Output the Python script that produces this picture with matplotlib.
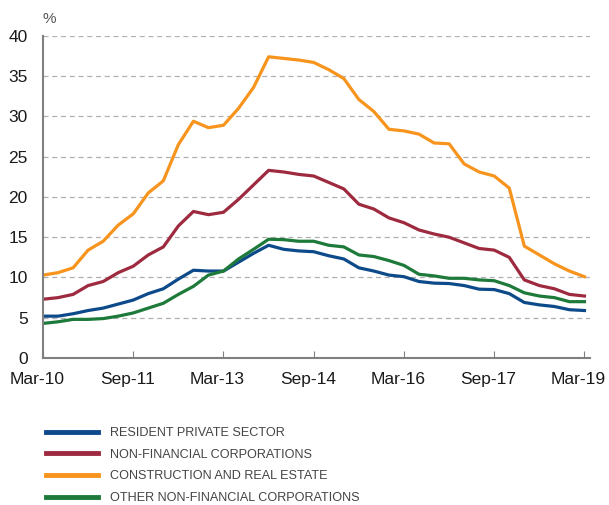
import numpy as np
import matplotlib.pyplot as plt
import matplotlib.transforms as mtransforms
from matplotlib import font_manager

quarters = np.arange(37)
tick_pos = [0, 6, 12, 18, 24, 30, 36]
tick_labels = ["Mar-10", "Sep-11", "Mar-13", "Sep-14", "Mar-16", "Sep-17", "Mar-19"]

resident = [5.2, 5.2, 5.5, 5.9, 6.2, 6.7, 7.2, 8.0, 8.6, 9.8, 10.9, 10.8, 10.8, 11.9, 13.0, 14.0,
            13.5, 13.3, 13.2, 12.7, 12.3, 11.2, 10.8, 10.3, 10.1, 9.5, 9.3, 9.25, 9.0, 8.55, 8.5,
            8.0, 6.9, 6.6, 6.4, 6.0, 5.9]
nfc = [7.3, 7.5, 7.9, 9.0, 9.5, 10.6, 11.4, 12.8, 13.8, 16.4, 18.2, 17.8, 18.1, 19.7, 21.5, 23.3,
       23.1, 22.8, 22.6, 21.8, 21.0, 19.1, 18.5, 17.4, 16.8, 15.9, 15.4, 15.0, 14.3, 13.6, 13.4,
       12.5, 9.7, 9.0, 8.6, 7.9, 7.7]
construction = [10.3, 10.6, 11.2, 13.4, 14.5, 16.5, 17.9, 20.5, 22.0, 26.5, 29.4, 28.6, 28.9, 31.0,
                33.6, 37.4, 37.2, 37.0, 36.7, 35.8, 34.7, 32.1, 30.6, 28.4, 28.2, 27.8, 26.7, 26.6,
                24.1, 23.1, 22.6, 21.1, 13.9, 12.8, 11.7, 10.8, 10.1]
other_nfc = [4.3, 4.5, 4.8, 4.8, 4.9, 5.2, 5.6, 6.2, 6.8, 7.9, 8.9, 10.3, 10.8, 12.3, 13.5, 14.75,
             14.7, 14.5, 14.5, 14.0, 13.8, 12.8, 12.6, 12.1, 11.5, 10.4, 10.2, 9.9, 9.9, 9.7, 9.6,
             9.0, 8.1, 7.7, 7.5, 7.0, 7.0]

series = [
    ("RESIDENT PRIVATE SECTOR", resident, "#0d4a8a"),
    ("NON-FINANCIAL CORPORATIONS", nfc, "#9e2a3f"),
    ("CONSTRUCTION AND REAL ESTATE", construction, "#f7941d"),
    ("OTHER NON-FINANCIAL CORPORATIONS", other_nfc, "#1e7a3a"),
]

# pick a narrow font for the legend if one is installed
installed = {f.name for f in font_manager.fontManager.ttflist}
leg_font = "Liberation Sans"
for cand in ["Liberation Sans Narrow", "DejaVu Sans Condensed"]:
    if cand in installed:
        leg_font = cand
        break

plt.rcParams["font.family"] = ["Liberation Sans", "DejaVu Sans"]

fig = plt.figure(figsize=(6.09, 5.05), dpi=100)
ax = fig.add_axes([0.0706, 0.291, 0.899, 0.638])

lines = []
for name, vals, col in series:
    l, = ax.plot(quarters, vals, color=col, lw=2.3, label=name)
    lines.append(l)

ax.set_xlim(0, 36.4)
ax.set_ylim(0, 40)
ax.set_yticks(range(0, 41, 5))
ax.set_xticks(tick_pos)
ax.set_xticklabels(tick_labels)
ax.yaxis.grid(True, ls=(0, (4, 3)), color="#b0b0b0", lw=0.9)
ax.set_axisbelow(True)

for s in ["top", "right"]:
    ax.spines[s].set_visible(False)
for s in ["left", "bottom"]:
    ax.spines[s].set_color("#808080")
    ax.spines[s].set_linewidth(1.5)

ax.tick_params(axis="x", direction="in", length=5, color="#808080", labelsize=12.5, pad=10,
               labelcolor="#1a1a1a")
ax.tick_params(axis="y", length=0, labelsize=12.5, pad=11, labelcolor="#1a1a1a")
shift = mtransforms.ScaledTranslation(-6 / 100, 0, fig.dpi_scale_trans)
for lab in ax.get_xticklabels():
    lab.set_transform(lab.get_transform() + shift)

fig.text(0.081, 0.962, "%", fontsize=11, color="#555555", ha="center", va="center")

# size legend text so the longest label is about 250 px wide
probe = fig.text(0, 0, series[3][0], family=leg_font, size=10)
fig.canvas.draw()
w = probe.get_window_extent().width
probe.remove()
leg_size = min(11.5, 10 * 250 / w)
fs_px = leg_size * 100 / 72


def make_legend(top_px, spacing):
    lg = fig.legend(handles=lines, loc="upper left",
                    bbox_to_anchor=(46 / 609, 1 - top_px / 505),
                    borderaxespad=0, borderpad=0, frameon=False,
                    handlelength=52 / fs_px, handletextpad=12 / fs_px,
                    labelspacing=spacing,
                    prop={"family": leg_font, "size": leg_size})
    for t in lg.get_texts():
        t.set_color("#444444")
    for h in lg.get_lines():
        h.set_linewidth(3.5)
    return lg


# two passes: measure row pitch and first-row position, then correct
top, spacing = 425.0, 0.5
leg = make_legend(top, spacing)
fig.canvas.draw()
r = fig.canvas.get_renderer()
ys = [505 - t.get_window_extent(r).y0 - t.get_window_extent(r).height / 2 for t in leg.get_texts()]
pitch = (ys[-1] - ys[0]) / 3
spacing += (21.7 - pitch) / fs_px
top += 433 - ys[0]
leg.remove()
leg = make_legend(top, spacing)

fig.savefig("out.png", dpi=100)
